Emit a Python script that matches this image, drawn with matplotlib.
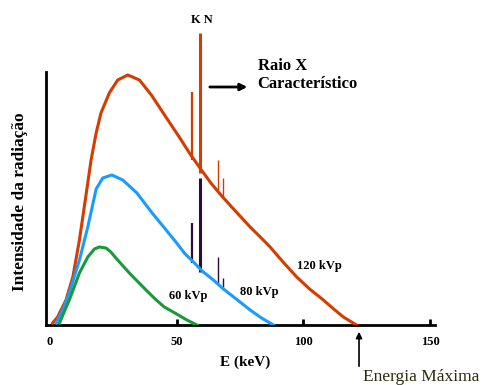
import matplotlib
matplotlib.use("Agg")
import matplotlib.pyplot as plt

# spectrum curves (keV, relative intensity)
e120 = [1, 3, 6.3, 9, 11.6, 14.2, 16.2, 18.2, 20.1, 23.4, 26.7, 30.7, 35.3,
        40, 46, 51, 55.3, 59.2, 63.5, 67.8, 71, 75, 79, 83, 86.9, 92, 97.4,
        102.5, 107.9, 112, 115.8, 121]
i120 = [2, 8, 25, 48, 85, 130, 165, 192, 212, 232, 245, 250, 245,
        230, 207, 188, 171, 157, 142, 129, 120, 109, 98, 88, 78, 63, 48,
        36, 25, 16, 8, 0]

e80 = [2.4, 5, 7.6, 11.6, 14.9, 18.2, 20.8, 24.4, 28.7, 34.3, 40, 45.5, 50,
       53, 56.6, 60.5, 64.5, 68, 72, 75.5, 79, 83.5, 88.2]
i80 = [2, 15, 32, 65, 98, 136, 147, 150, 145, 132, 113, 96, 82,
       72, 63, 53, 45, 37, 29, 22, 15, 7, 0]

e60 = [3.7, 7.6, 11.6, 14.9, 17.5, 19.5, 22.1, 24, 26, 31.3, 37.9, 41.5,
       45.1, 50, 54, 58]
i60 = [2, 25, 52, 68, 76, 78, 77, 73, 67, 52, 35, 26, 18, 11, 5, 0]

# characteristic lines: energy, bottom, top
k_energy = [56.2, 59.2, 66.4, 68.4]
k120_bottom = [165, 152, 135, 128]
k120_top = [233, 292, 165, 147]
k80_bottom = [62, 53, 42, 35]
k80_top = [102, 147, 68, 47]

RED = '#d43c00'
BLUE = '#1a9cff'
GREEN = '#1a9a3a'
PURPLE = '#2d0a3a'
SERIF = 'Liberation Serif'

fig = plt.figure(figsize=(4.87, 3.85), dpi=100)
ax = fig.add_axes([46 / 487, 60 / 385, 389 / 487, 325 / 385])
ax.set_xlim(-1.6, 152)
ax.set_ylim(0, 325)

ax.plot(e120, i120, color=RED, lw=2.2, zorder=3)
ax.plot(e80, i80, color=BLUE, lw=2.2, zorder=3)
ax.plot(e60, i60, color=GREEN, lw=2.2, zorder=3)

ax.vlines(k_energy, k120_bottom, k120_top, colors=RED,
          linewidths=[1.6, 2.2, 1.0, 1.0], zorder=2)
ax.vlines(k_energy, k80_bottom, k80_top, colors=PURPLE,
          linewidths=[1.6, 2.2, 1.0, 1.0], zorder=2)

for side in ['top', 'right']:
    ax.spines[side].set_visible(False)
ax.spines['left'].set_bounds(0, 253)
ax.spines['left'].set_linewidth(2)
ax.spines['bottom'].set_linewidth(2)

ax.set_yticks([])
ax.set_xticks([0, 50, 100, 150])
ax.tick_params(axis='x', direction='in', length=4, width=2, pad=8)
ax.xaxis.get_major_ticks()[0].tick1line.set_visible(False)
for lab in ax.get_xticklabels():
    lab.set_fontfamily(SERIF)
    lab.set_fontweight('bold')
    lab.set_fontsize(9)

ax.text(77, -37, 'E (keV)', ha='center', va='center', fontsize=11,
        fontweight='bold', family=SERIF, clip_on=False)
fig.text(20 / 487, 1 - 202 / 385, 'Intensidade da radiação', rotation=90,
         ha='center', va='center', fontsize=12.5, fontweight='bold',
         family=SERIF)

ax.text(60, 305, 'K N', ha='center', va='center', fontsize=9,
        fontweight='bold', family=SERIF)
ax.annotate('', xy=(79, 238), xytext=(62, 238),
            arrowprops=dict(arrowstyle='-|>', color='black', lw=2,
                            mutation_scale=10))
ax.text(82, 250, 'Raio X\nCaracterístico', ha='left', va='center',
        fontsize=12, fontweight='bold', family=SERIF, linespacing=1.15)

ax.text(97.5, 59, '120 kVp', ha='left', va='center', fontsize=9,
        fontweight='bold', family=SERIF)
ax.text(75, 33, '80 kVp', ha='left', va='center', fontsize=9,
        fontweight='bold', family=SERIF)
ax.text(47, 29, '60 kVp', ha='left', va='center', fontsize=9,
        fontweight='bold', family=SERIF)

ax.annotate('', xy=(122, -4), xytext=(122, -44),
            arrowprops=dict(arrowstyle='-|>', color='black', lw=1.2,
                            mutation_scale=9), annotation_clip=False)
ax.text(123.5, -52, 'Energia Máxima', ha='left', va='center', fontsize=12.5,
        family=SERIF, color='#2b2b10', clip_on=False)

fig.savefig('out.png', dpi=100)
